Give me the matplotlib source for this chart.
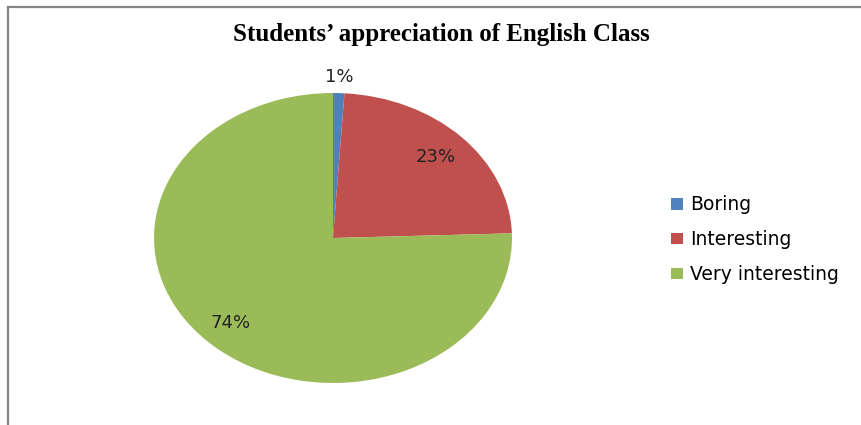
import matplotlib.pyplot as plt
from matplotlib.lines import Line2D
from matplotlib.patches import Patch
import numpy as np

# data
categories = ["Boring", "Interesting", "Very interesting"]
values = [1, 23, 74]
colors = ["#4F81BD", "#C0504D", "#9BBB59"]
label_radius = [1.11, 0.80, 0.82]   # where each % label sits, as a fraction of the radius

fig = plt.figure(figsize=(8.62, 4.25), dpi=100)

# pie area (stretched into an ellipse, like the reference)
ax = fig.add_axes([154/862, 42/425, 358/862, 290/425])
wedges, _ = ax.pie(values, colors=colors, startangle=90, counterclock=False,
                   wedgeprops=dict(linewidth=0))
ax.set_aspect('auto')
ax.set_xlim(-1, 1)
ax.set_ylim(-1, 1)

for w, v, r in zip(wedges, values, label_radius):
    mid = np.deg2rad((w.theta1 + w.theta2) / 2)
    ax.text(r * np.cos(mid), r * np.sin(mid), "%d%%" % v, ha='center', va='center',
            fontsize=13, family='DejaVu Sans', color='#222222')

# title
fig.text(0.512, 1 - 41/425, "Students\u2019 appreciation of English Class", ha='center', va='baseline',
         fontsize=18, fontweight='bold', family='Liberation Serif')

# legend
handles = [Patch(facecolor=c, edgecolor='none') for c in colors]
fig.legend(handles, categories, loc='center left', bbox_to_anchor=(0.759, 0.436),
           frameon=False, prop={'family': 'DejaVu Sans', 'size': 13.5},
           handlelength=0.65, handleheight=0.58, handletextpad=0.38, labelspacing=0.84)

# chart border (left and top edges visible)
fig.add_artist(Line2D([8/862, 8/862], [0, 1 - 7/425], color='#858585', linewidth=1.6))
fig.add_artist(Line2D([8/862, 1], [1 - 7/425, 1 - 7/425], color='#858585', linewidth=1.6))

fig.savefig("out.png", dpi=100)
